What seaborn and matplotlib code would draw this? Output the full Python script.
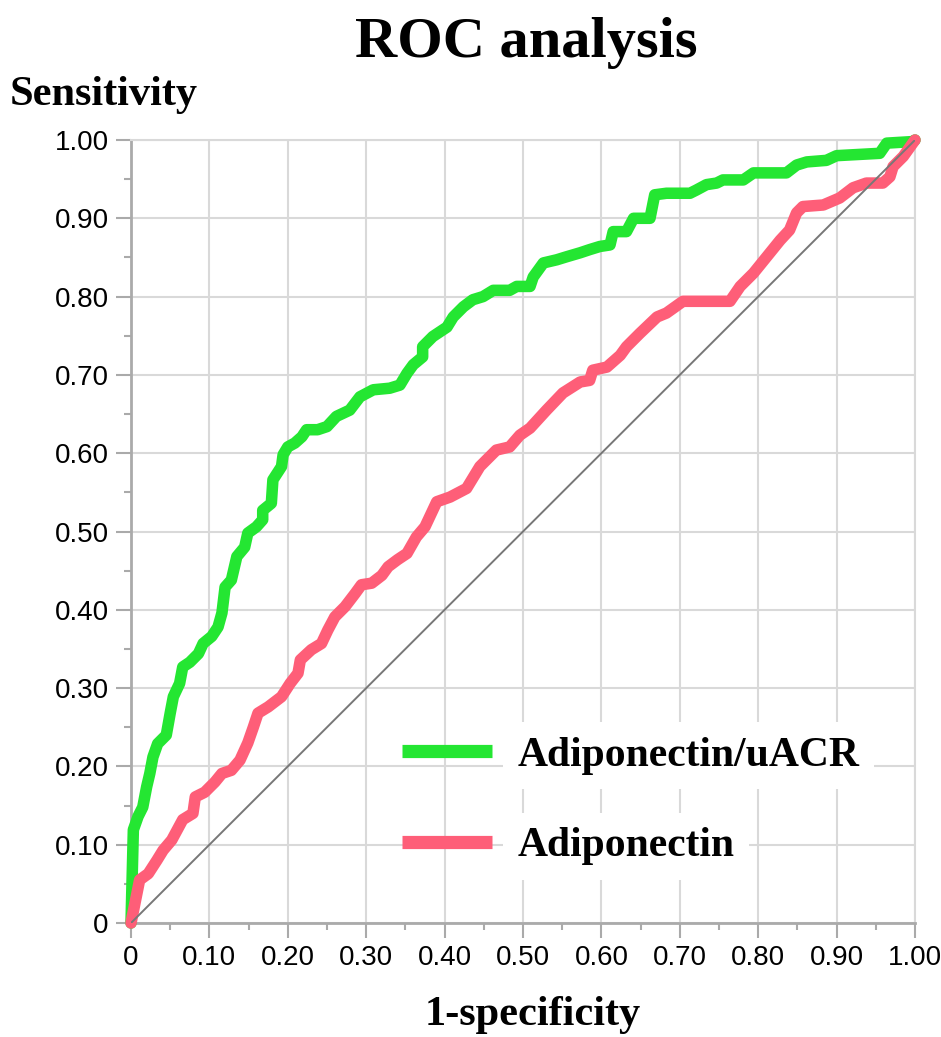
import matplotlib
matplotlib.use("Agg")
import matplotlib.pyplot as plt
import seaborn as sns
from matplotlib.ticker import MultipleLocator

# ROC curve points (1-specificity, sensitivity)
green_x = [0, 0.003, 0.009, 0.015, 0.02, 0.024, 0.028, 0.034, 0.045, 0.05,
           0.054, 0.062, 0.066, 0.075, 0.086, 0.092, 0.103, 0.111, 0.116, 0.12,
           0.128, 0.135, 0.145, 0.149, 0.16, 0.168, 0.168, 0.179, 0.181, 0.192,
           0.194, 0.2, 0.209, 0.218, 0.224, 0.238, 0.25, 0.262, 0.279, 0.292,
           0.309, 0.33, 0.343, 0.352, 0.36, 0.372, 0.372, 0.385, 0.403, 0.411,
           0.424, 0.436, 0.449, 0.462, 0.483, 0.492, 0.509, 0.513, 0.526, 0.543,
           0.556, 0.573, 0.585, 0.598, 0.611, 0.615, 0.632, 0.641, 0.662, 0.668,
           0.683, 0.713, 0.721, 0.734, 0.747, 0.755, 0.781, 0.794, 0.836, 0.849,
           0.862, 0.887, 0.9, 0.955, 0.964, 0.997, 1.0]
green_y = [0, 0.119, 0.136, 0.148, 0.174, 0.191, 0.212, 0.229, 0.24, 0.268,
           0.289, 0.306, 0.327, 0.333, 0.344, 0.357, 0.366, 0.378, 0.396, 0.429,
           0.438, 0.468, 0.48, 0.498, 0.506, 0.515, 0.527, 0.536, 0.566, 0.583,
           0.598, 0.608, 0.613, 0.621, 0.63, 0.63, 0.634, 0.647, 0.655, 0.672,
           0.681, 0.683, 0.687, 0.702, 0.713, 0.723, 0.736, 0.749, 0.761, 0.774,
           0.787, 0.796, 0.8, 0.808, 0.808, 0.813, 0.813, 0.825, 0.843, 0.847,
           0.851, 0.856, 0.86, 0.864, 0.866, 0.883, 0.883, 0.9, 0.9, 0.93,
           0.932, 0.932, 0.936, 0.943, 0.945, 0.949, 0.949, 0.958, 0.958, 0.968,
           0.972, 0.974, 0.98, 0.983, 0.996, 0.998, 1.0]

red_x = [0, 0.011, 0.022, 0.033, 0.041, 0.052, 0.066, 0.079, 0.082, 0.094,
         0.107, 0.116, 0.128, 0.139, 0.149, 0.156, 0.162, 0.175, 0.192, 0.203,
         0.213, 0.216, 0.23, 0.243, 0.251, 0.26, 0.273, 0.286, 0.294, 0.307,
         0.32, 0.328, 0.34, 0.352, 0.364, 0.375, 0.39, 0.407, 0.428, 0.445,
         0.466, 0.483, 0.496, 0.509, 0.53, 0.551, 0.573, 0.585, 0.589, 0.607,
         0.624, 0.632, 0.649, 0.671, 0.683, 0.704, 0.764, 0.777, 0.794, 0.811,
         0.828, 0.84, 0.849, 0.857, 0.883, 0.904, 0.921, 0.938, 0.959, 0.968,
         0.972, 0.985, 1.0]
red_y = [0, 0.055, 0.063, 0.08, 0.093, 0.106, 0.132, 0.14, 0.161, 0.167,
         0.18, 0.191, 0.195, 0.208, 0.23, 0.25, 0.268, 0.276, 0.289, 0.306,
         0.319, 0.336, 0.349, 0.357, 0.374, 0.391, 0.404, 0.421, 0.432, 0.434,
         0.444, 0.455, 0.464, 0.472, 0.493, 0.506, 0.538, 0.544, 0.555, 0.583,
         0.604, 0.608, 0.623, 0.632, 0.655, 0.677, 0.691, 0.693, 0.706, 0.71,
         0.725, 0.736, 0.753, 0.774, 0.779, 0.794, 0.794, 0.813, 0.83, 0.851,
         0.872, 0.885, 0.907, 0.915, 0.917, 0.926, 0.939, 0.945, 0.945, 0.953,
         0.966, 0.979, 1.0]

diag_x = [0, 1]
diag_y = [0, 1]

series_labels = ["Adiponectin/uACR", "Adiponectin"]
series_colors = ["#24e632", "#fe5e78"]

ticks = [0, 0.1, 0.2, 0.3, 0.4, 0.5, 0.6, 0.7, 0.8, 0.9, 1.0]
tick_labels = ["0", "0.10", "0.20", "0.30", "0.40", "0.50",
               "0.60", "0.70", "0.80", "0.90", "1.00"]

sns.set_theme(style="whitegrid")
plt.rcParams["font.family"] = ["Liberation Sans", "DejaVu Sans"]
serif_bold = {"family": ["Liberation Serif", "DejaVu Serif"], "weight": "bold"}

fig = plt.figure(figsize=(9.41, 10.37), dpi=100)
ax = fig.add_axes([131 / 941, 114 / 1037, 784 / 941, 783 / 1037])

sns.lineplot(x=green_x, y=green_y, sort=False, estimator=None, ax=ax,
             color=series_colors[0], linewidth=8.3, label=series_labels[0],
             clip_on=False, solid_joinstyle="round", zorder=3)
sns.lineplot(x=red_x, y=red_y, sort=False, estimator=None, ax=ax,
             color=series_colors[1], linewidth=8.3, label=series_labels[1],
             clip_on=False, solid_joinstyle="round", zorder=4)
ax.plot(diag_x, diag_y, color="#777777", linewidth=1.4, zorder=5)

ax.set_xlim(0, 1)
ax.set_ylim(0, 1)
ax.set_xticks(ticks)
ax.set_xticklabels(tick_labels)
ax.set_yticks(ticks)
ax.set_yticklabels(tick_labels)
ax.xaxis.set_minor_locator(MultipleLocator(0.05))
ax.yaxis.set_minor_locator(MultipleLocator(0.05))
ax.set_xlabel("")
ax.set_ylabel("")

ax.grid(True, which="major", color="#d9d9d9", linewidth=1.5)
ax.grid(False, which="minor")
ax.set_axisbelow(True)
for s in ["top", "right"]:
    ax.spines[s].set_color("#d9d9d9")
    ax.spines[s].set_linewidth(1.5)
for s in ["left", "bottom"]:
    ax.spines[s].set_color("#aaaaaa")
    ax.spines[s].set_linewidth(2)

ax.tick_params(which="both", direction="out", bottom=True, left=True,
               color="#aaaaaa", width=1.5)
ax.tick_params(which="major", length=11, pad=5, labelsize=20, labelcolor="black")
ax.tick_params(which="minor", length=5)

leg = ax.legend(loc="center left", bbox_to_anchor=(0.3457, 0.156),
                frameon=False, borderpad=0, borderaxespad=0,
                handlelength=2.16, handletextpad=0.62, labelspacing=1.26,
                prop={"family": "Liberation Serif", "weight": "bold", "size": 30})
for line in leg.get_lines():
    line.set_linewidth(9.5)
    line.set_solid_capstyle("butt")
for t in leg.get_texts():
    t.set_color("black")
    t.set_bbox(dict(facecolor="white", edgecolor="none", boxstyle="square,pad=0.35"))

fig.text(0.559, 0.945, "ROC analysis", ha="center", va="baseline",
         fontsize=42, color="black", **serif_bold)
fig.text(0.0106, 0.8987, "Sensitivity", ha="left", va="baseline",
         fontsize=30.5, color="black", **serif_bold)
fig.text(0.566, 0.0116, "1-specificity", ha="center", va="baseline",
         fontsize=30.5, color="black", **serif_bold)

fig.savefig("out.png", dpi=100)
